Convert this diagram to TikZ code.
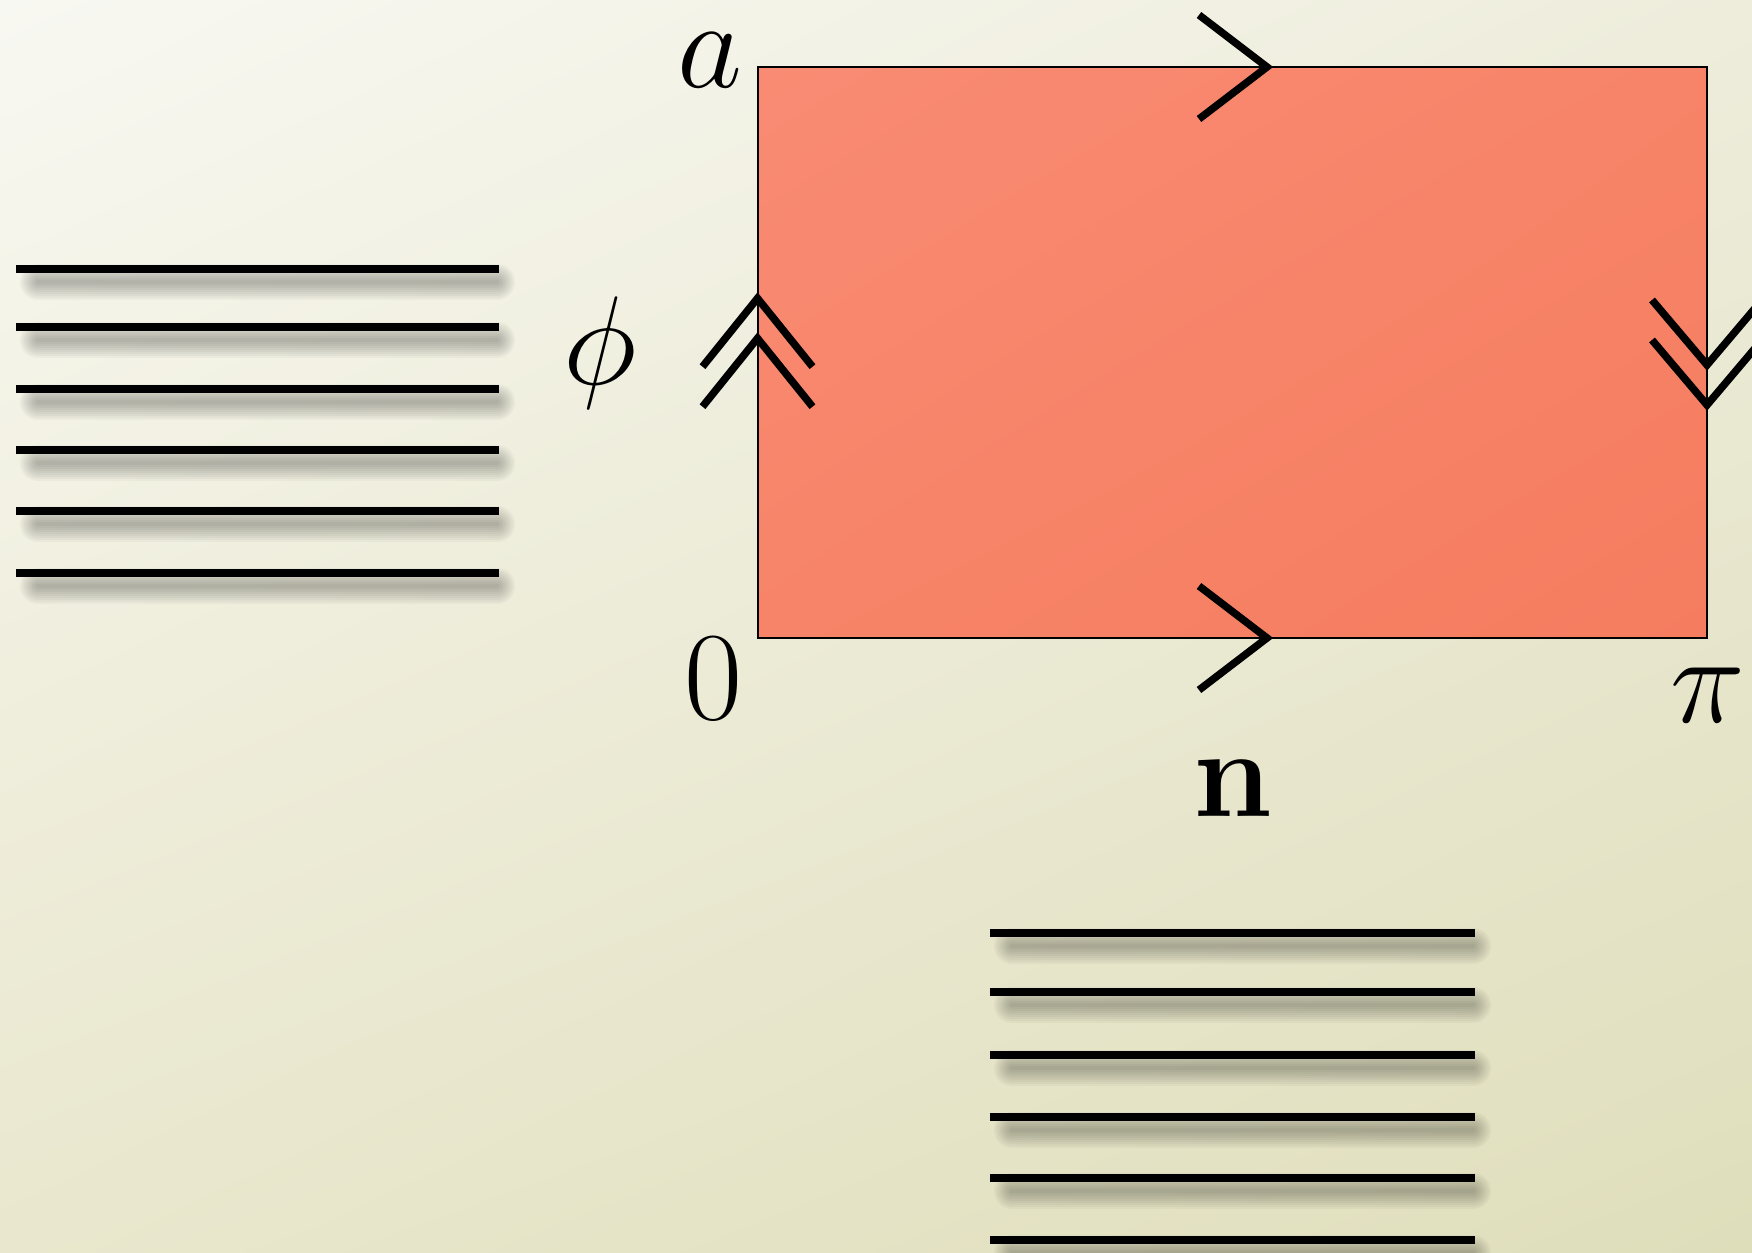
\documentclass[tikz,border=0pt]{standalone}
\usepackage{amsmath,amssymb}
\usetikzlibrary{positioning, calc, shadings}
\definecolor{paperlt}{HTML}{F8F8F2}
\definecolor{papertr}{HTML}{EEEDDC}
\definecolor{paperbl}{HTML}{E9E7CD}
\definecolor{paperdk}{HTML}{DFDEBB}
\definecolor{salmonlt}{HTML}{F98B74}
\definecolor{salmonmd}{HTML}{F78468}
\definecolor{salmondk}{HTML}{F57C5F}

\begin{document}
\begin{tikzpicture}[
  lbl/.style={font=\LARGE, scale=2.08, inner sep=0pt, text=black},
  chev/.style={line width=0.75mm, black},
  rule/.style={line width=0.8mm, black},
  blur/.style={line width=#1, black, opacity=0.032, line cap=round},
]
\useasboundingbox (0,0) rectangle (17.52,12.52);
\clip (0,0) rectangle (17.52,12.52);

% Background
\shade[upper left=paperlt, upper right=papertr, lower left=paperbl, lower right=paperdk]
  (0,0) rectangle (17.52,12.52);

% === Strip ===
\coordinate (sw) at (7.575,6.14);
\coordinate (ne) at (17.07,11.85);

\shade[upper left=salmonlt, upper right=salmonmd, lower left=salmonmd, lower right=salmondk]
  (sw) rectangle (ne);
\draw[line width=0.2mm] (sw) rectangle (ne);

% Edge marks (single on top/bottom, double on the sides)
\coordinate (ntip) at (12.67,11.85);
\coordinate (stip) at (12.67,6.14);
\draw[chev] (ntip) ++(-0.68,0.52) -- (ntip) -- ++(-0.68,-0.52);
\draw[chev] (stip) ++(-0.68,0.52) -- (stip) -- ++(-0.68,-0.52);

\foreach \y [count=\i] in {9.537,9.137} {
  \coordinate (wtip\i) at (7.575,\y);
  \draw[chev] (wtip\i) ++(-0.55,-0.684) -- (wtip\i) -- ++(0.55,-0.684);
}
\foreach \y [count=\i] in {8.87,8.47} {
  \coordinate (etip\i) at (17.07,\y);
  \draw[chev] (etip\i) ++(-0.55,0.65) -- (etip\i) -- ++(0.55,0.65);
}

% Labels
\node[lbl, anchor=base] (lbla) at (7.10,11.64) {$a$};
\node[lbl] (lblphi) at (6.00,8.99) {$\phi$};
\node[lbl, anchor=base] (lblzero) at (7.13,5.33) {$0$};
\node[lbl, anchor=base] (lblpi) at (17.08,5.30) {$\pi$};
\node[lbl, anchor=base] (lbln) at (12.33,4.36) {$\mathbf{n}$};

% === Left stack of rules ===
\foreach \y [count=\i] in {9.833,9.247,8.633,8.02,7.407,6.793} {
  \coordinate (la\i) at (0.16,\y);
  \coordinate (lb\i) at (4.99,\y);
  \foreach \w in {0.04,0.08,...,0.40}
    \draw[blur=\w cm] ($(la\i)+(0.22,-0.13)$) -- ($(lb\i)+(-0.02,-0.13)$);
  \draw[rule] (la\i) -- (lb\i);
}

% === Bottom stack of rules ===
\foreach \y [count=\i] in {3.19,2.603,1.967,1.35,0.737,0.123} {
  \coordinate (ba\i) at (9.90,\y);
  \coordinate (bb\i) at (14.75,\y);
  \foreach \w in {0.04,0.08,...,0.40}
    \draw[blur=\w cm] ($(ba\i)+(0.22,-0.13)$) -- ($(bb\i)+(-0.02,-0.13)$);
  \draw[rule] (ba\i) -- (bb\i);
}

\end{tikzpicture}
\end{document}
